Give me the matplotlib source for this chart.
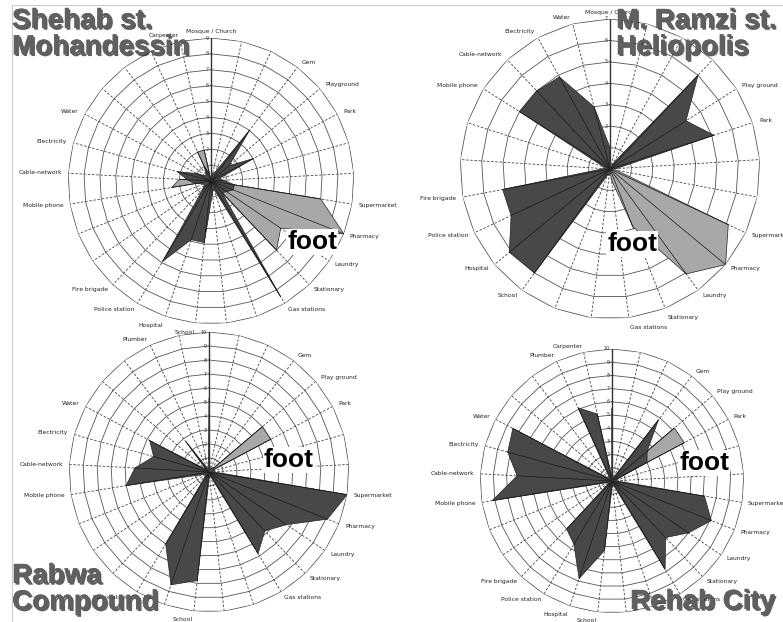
import numpy as np
import matplotlib
matplotlib.use('Agg')
from matplotlib import pyplot as plt
from matplotlib import patheffects as pe

W, H = 783, 622

# categories, clockwise from the top (blank = unlabelled spoke)
cats = ['Mosque / Church', '', '', 'Gem', 'Playground', 'Park', '', '',
        'Supermarket', 'Pharmacy', 'Laundry', 'Stationary', 'Gas stations',
        '', '', 'School', 'Hospital', 'Police station', 'Fire brigade', '', '',
        'Mobile phone', 'Cable-network', 'Electricity', 'Water', '', '',
        'Plumber', 'Carpenter']
cats_ramzi = [c.replace('Playground', 'Play ground') for c in cats[:25]]
cats_other = [c.replace('Playground', 'Play ground') for c in cats]

# Shehab st. Mohandessin (max 9)
shehab_dark = [0, 0.5, 0.6, 4.0, 1.5, 3.0, 0.5, 0.8, 1.5, 1.5, 1.2, 1.0, 8.5, 0.5,
               0.8, 3.9, 3.9, 5.9, 0.8, 0.5, 0.5, 1.0, 1.5, 2.2, 1.0, 0.5, 0.5, 1.0, 0.5]
shehab_light = [0, 0, 0, 0, 0, 0, 0, 0, 7.0, 9.0, 5.3, 6.0, 0, 0,
                0, 0, 0, 0, 0, 0, 0, 2.5, 2.0, 0, 0, 0, 0, 2.0, 2.0]

# M. Ramzi st. Heliopolis (max 7)
ramzi_dark = [1.0, 0, 0.3, 6.0, 4.2, 5.1, 0.3, 0, 0, 0, 0, 0, 0, 0.3,
              0.3, 6.0, 6.1, 5.1, 5.1, 0.3, 0.3, 5.0, 5.0, 4.9, 3.0]
ramzi_light = [0, 0, 0, 0, 0, 0, 0, 0.3, 6.1, 7.0, 6.05, 2.9, 0.5, 0,
               0, 0, 0, 0, 0, 0, 0, 0, 0, 0, 0]

# Rabwa Compound (max 10)
rabwa_dark = [5.3, 0.2, 0.3, 0.3, 0.5, 0.5, 0.3, 0.3, 10.0, 9.1, 6.7, 5.8, 6.8, 0.3,
              0.3, 7.8, 8.5, 6.0, 0.3, 0.3, 0.5, 6.0, 5.3, 4.1, 4.8, 0.3, 2.7, 0.3, 0.2]
rabwa_light = [0, 0, 0, 0, 5.0, 5.0, 0, 0, 0, 0, 0, 0, 0, 0,
               0, 0, 0, 0, 0, 0, 0, 0, 0, 0, 0, 0, 0, 0, 0]

# Rehab City (max 10)
rehab_dark = [0.3, 0.3, 0.3, 5.8, 3.5, 3.0, 0.3, 0.3, 7.1, 8.1, 7.0, 5.9, 7.8, 0.3,
              0.3, 5.3, 7.8, 5.6, 5.0, 0.3, 0.3, 9.2, 7.2, 8.2, 8.5, 0.3, 0.3, 6.1, 5.2]
rehab_light = [5.5, 0, 0, 0, 6.2, 6.2, 0, 0, 0, 0, 0, 0, 0, 0,
               0, 0, 0, 0, 0, 0, 0, 0, 0, 0, 0, 0, 0, 0, 0]

DARK = '#484848'
LIGHT = '#a8a8a8'

fig = plt.figure(figsize=(W / 100, H / 100), dpi=100)


def make_ax(cx, cy, r):
    return fig.add_axes([(cx - r) / W, (H - cy - r) / H, 2 * r / W, 2 * r / H],
                        projection='polar')


def radar(ax, labels, rmax, dark, light, hide=()):
    n = len(labels)
    th = np.arange(n) * 2 * np.pi / n
    thc = np.append(th, th[0])
    ax.set_theta_zero_location('N')
    ax.set_theta_direction(-1)
    ax.set_ylim(0, rmax)
    ax.axis('off')
    for k in range(1, rmax + 1):
        ax.plot(thc, [k] * (n + 1), color='#555555', lw=0.6, zorder=1)
    for t in th[1:]:
        ax.plot([t, t], [0, rmax], color='#444444', lw=0.6, ls=(0, (3, 2)), zorder=1)
    for vals, col, z in ((light, LIGHT, 2), (dark, DARK, 3)):
        v = np.append(vals, vals[0])
        ax.fill(thc, v, facecolor=col, edgecolor='#222222', lw=0.5, zorder=z)
        for t, r in zip(th, vals):
            if r > 0.6:
                ax.plot([t, t], [0, r], color='#1a1a1a', lw=0.5, zorder=z + 0.5)
    ax.plot([0, 0], [0, rmax], color='#333333', lw=1.0, zorder=5)
    for k in range(rmax + 1):
        ax.annotate(str(k), (0, k), xytext=(-1.5, 0), textcoords='offset points',
                    fontsize=3.5, ha='right', va='center', color='#333333', zorder=5)
    for t, lab in zip(th, labels):
        if not lab or lab in hide:
            continue
        d = np.degrees(t)
        if d < 4 or abs(d - 180) < 4:
            ha = 'center'
        elif d < 180:
            ha = 'left'
        else:
            ha = 'right'
        va = 'center'
        if 150 < d < 210:
            va = 'top'
        ax.text(t, rmax * 1.045, lab, fontsize=4.3, ha=ha, va=va,
                color='#222222', zorder=6)


radar(make_ax(211, 181, 143), cats, 9, shehab_dark, shehab_light, hide=('Plumber',))
radar(make_ax(610, 169, 150), cats_ramzi, 7, ramzi_dark, ramzi_light, hide=('Gem',))
radar(make_ax(209, 472, 140), cats_other, 10, rabwa_dark, rabwa_light,
      hide=('Mosque / Church', 'Carpenter', 'Hospital', 'Fire brigade'))
radar(make_ax(612, 481, 132), cats_other, 10, rehab_dark, rehab_light,
      hide=('Mosque / Church',))

# frame lines of the original composite
fig.add_artist(plt.Line2D([12 / W, 1], [1 - 5 / H, 1 - 5 / H], color='#cccccc', lw=0.8))
fig.add_artist(plt.Line2D([12 / W, 12 / W], [1 - 5 / H, 0], color='#cccccc', lw=0.8))

shadow = [pe.withSimplePatchShadow(offset=(1.2, -1.2), shadow_rgbFace='#1a1a1a', alpha=0.7),
          pe.Normal()]
titles = [('Shehab st.\nMohandessin', 12, 8), ('M. Ramzi st.\nHeliopolis', 616, 8),
          ('Rabwa\nCompound', 12, 563), ('Rehab City', 630, 589)]
for txt, x, y in titles:
    fig.text(x / W, 1 - y / H, txt, fontsize=20, fontweight='bold', color='#606060',
             family='Liberation Sans', ha='left', va='top', linespacing=1.02,
             path_effects=shadow, zorder=20)

for x, y in [(312, 242), (632, 244), (289, 460), (704, 463)]:
    fig.text(x / W, 1 - y / H, 'foot', fontsize=19, fontweight='bold', color='black',
             family='Liberation Sans', ha='center', va='center', zorder=21,
             bbox=dict(facecolor='white', edgecolor='none', pad=0.5))

fig.savefig('out.png', dpi=100)
